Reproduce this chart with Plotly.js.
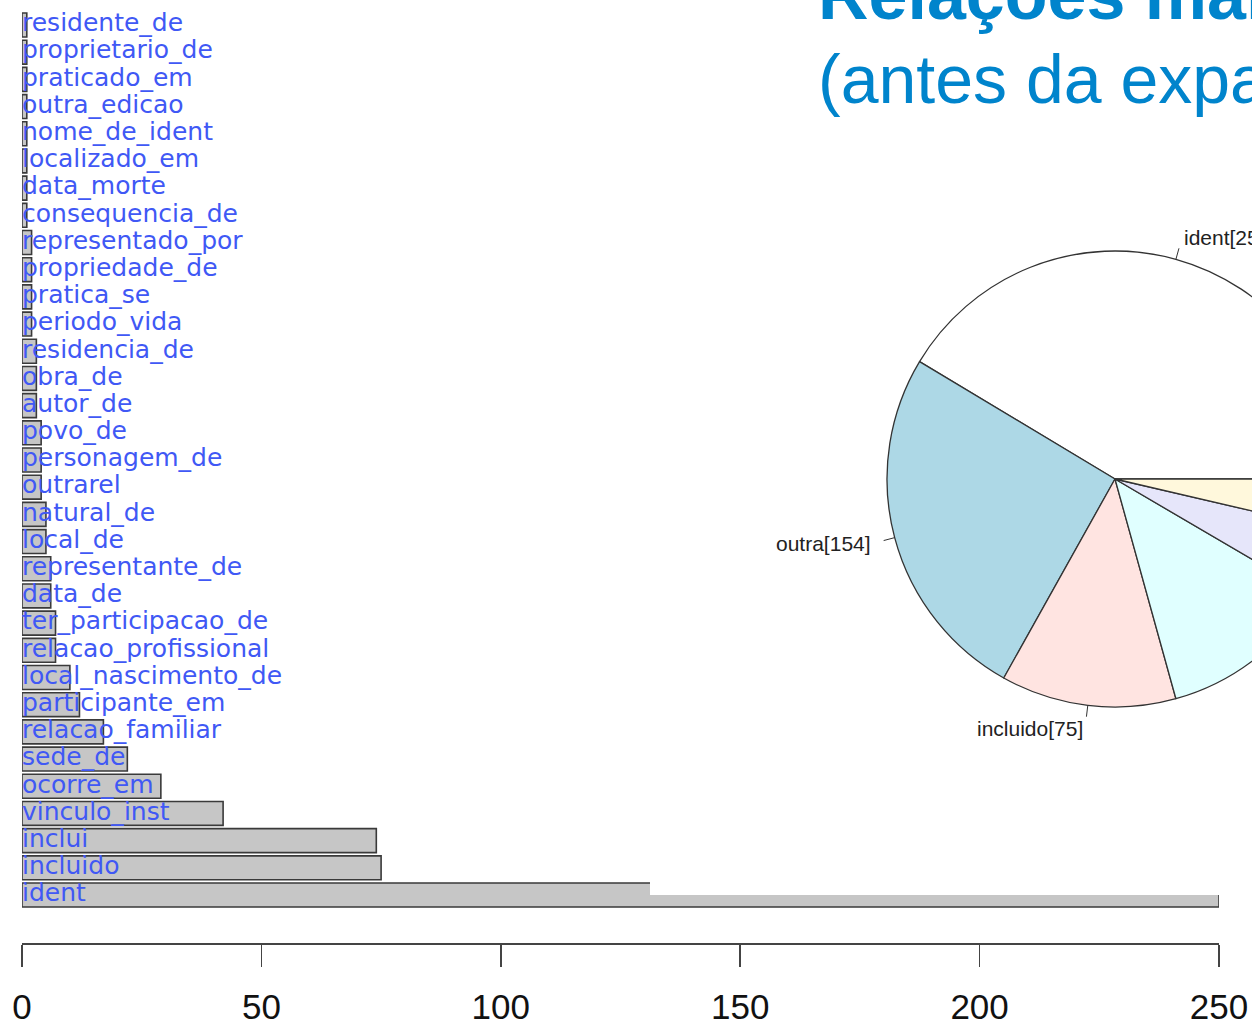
<!DOCTYPE html>
<html>
<head>
<meta charset="utf-8">
<script src="https://cdn.plot.ly/plotly-3.0.1.min.js"></script>
<style>
  html, body { margin: 0; padding: 0; background: #fff; overflow: hidden; }
  #wrap { width: 1252px; height: 1022px; overflow: hidden; position: relative; }
  #chart { width: 1400px; height: 1022px; }
</style>
</head>
<body>
<div id="wrap"><div id="chart"></div></div>
<script>
// ---- data (bar chart, bottom to top) ----
const relCategories = ['ident','incluido','inclui','vinculo_inst','ocorre_em','sede_de','relacao_familiar',
  'participante_em','local_nascimento_de','relacao_profissional','ter_participacao_de','data_de',
  'representante_de','local_de','natural_de','outrarel','personagem_de','povo_de','autor_de','obra_de',
  'residencia_de','periodo_vida','pratica_se','propriedade_de','representado_por','consequencia_de',
  'data_morte','localizado_em','nome_de_ident','outra_edicao','praticado_em','proprietario_de','residente_de'];
const relCounts = [250,75,74,42,29,22,17,12,10,7,7,6,6,5,5,4,4,4,3,3,3,2,2,2,2,1,1,1,1,1,1,1,1];
const xTickVals = [0,50,100,150,200,250];

// ---- data (pie chart) ----
const pieLabels = ['ident','outra','incluido','inclui','ocorre_em','sede_de'];
const pieValues = [250,154,75,74,29,22];
const pieColors = ['#FFFFFF','#ADD8E6','#FFE4E1','#E0FFFF','#E6E6FA','#FFF8DC'];

// ---- titles ----
const titleLine1 = 'Relações mais frequentes';
const titleLine2 = '(antes da expansão)';

// ---- layout geometry ----
const W = 1400, H = 1022;
const axisY = 943;               // px position of x axis line
const plotLeft = 22, plotRight = 1219;
const pieCx = 1115, pieCy = 479, pieR = 228;

const total = pieValues.reduce((a, b) => a + b, 0);

const traces = [
  {
    type: 'bar', orientation: 'h',
    x: relCounts, y: relCategories,
    marker: { color: '#C6C6C6', line: { color: '#3a3a3a', width: 1.6 } },
    hoverinfo: 'skip', xaxis: 'x', yaxis: 'y'
  },
  {
    type: 'scatter', mode: 'text',
    x: relCategories.map(() => 0), y: relCategories,
    text: relCategories, textposition: 'middle right',
    textfont: { family: 'DejaVu Sans', size: 25, color: 'rgb(64,88,245)' },
    cliponaxis: false, hoverinfo: 'skip', xaxis: 'x', yaxis: 'y'
  },
  {
    type: 'pie', labels: pieLabels, values: pieValues, sort: false,
    direction: 'counterclockwise',
    // R style: first slice starts at 3 o'clock and runs counterclockwise
    rotation: 90 - 360 * pieValues[0] / total,
    marker: { colors: pieColors, line: { color: '#333', width: 1.3 } },
    textinfo: 'none', hoverinfo: 'skip', showlegend: false,
    domain: { x: [(pieCx - pieR) / W, (pieCx + pieR) / W], y: [(H - pieCy - pieR) / H, (H - pieCy + pieR) / H] }
  }
];

// pie labels and ticks in R style, computed from the data
const annotations = [];
const shapes = [];
let cum = 0;
pieValues.forEach((v, i) => {
  const mid = (cum + v / 2) / total * 2 * Math.PI;
  cum += v;
  const c = Math.cos(mid), s = Math.sin(mid);
  shapes.push({ type: 'line', xref: 'paper', yref: 'paper',
    x0: (pieCx + pieR * c) / W, y0: (H - (pieCy - pieR * s)) / H,
    x1: (pieCx + 1.05 * pieR * c) / W, y1: (H - (pieCy - 1.05 * pieR * s)) / H,
    line: { color: '#333', width: 1 } });
  annotations.push({ xref: 'paper', yref: 'paper',
    x: (pieCx + 1.1 * pieR * c) / W, y: (H - (pieCy - 1.1 * pieR * s)) / H,
    xanchor: c > 0 ? 'left' : 'right', yanchor: 'middle', showarrow: false,
    text: pieLabels[i] + '[' + v + ']',
    font: { family: 'Liberation Sans', size: 21, color: '#222' } });
});

annotations.push({ xref: 'paper', yref: 'paper', x: 816 / W, y: (H + 5) / H,
  xanchor: 'left', yanchor: 'middle', showarrow: false, text: '<b>' + titleLine1 + '</b>',
  font: { family: 'Liberation Sans', size: 70, color: '#0084CC' } });
annotations.push({ xref: 'paper', yref: 'paper', x: 816 / W, y: (H - 79) / H,
  xanchor: 'left', yanchor: 'middle', showarrow: false, text: titleLine2,
  font: { family: 'Liberation Sans', size: 68, color: '#0084CC' } });

// white patch of the overlapping picture over the top of the longest bar
shapes.push({ type: 'rect', xref: 'paper', yref: 'paper', layer: 'above',
  x0: 650 / W, x1: 1, y0: (H - 895) / H, y1: (H - 878) / H,
  fillcolor: '#FFFFFF', line: { width: 0 } });

const layout = {
  width: W, height: H,
  margin: { l: 0, r: 0, t: 0, b: 0, pad: 0 },
  paper_bgcolor: '#FFFFFF', plot_bgcolor: 'rgba(0,0,0,0)',
  showlegend: false, bargap: 0.12,
  xaxis: {
    domain: [plotLeft / W, plotRight / W], range: [0, 250], anchor: 'y',
    showgrid: false, zeroline: false, showline: true, linecolor: '#444', linewidth: 2,
    ticks: 'outside', ticklen: 22, tickwidth: 1.5, tickcolor: '#444',
    tickmode: 'array', tickvals: xTickVals, ticktext: xTickVals.map(String),
    ticklabelstandoff: 10,
    tickfont: { family: 'Liberation Sans', size: 35, color: '#111' }
  },
  yaxis: {
    domain: [(H - axisY) / H, 1], anchor: 'x',
    type: 'category', categoryorder: 'array', categoryarray: relCategories,
    range: [-1.7655, 32.9195],
    showgrid: false, zeroline: false, showline: false, showticklabels: false, ticks: ''
  },
  annotations: annotations,
  shapes: shapes
};

Plotly.newPlot('chart', traces, layout, { displayModeBar: false, staticPlot: true });
</script>
</body>
</html>
